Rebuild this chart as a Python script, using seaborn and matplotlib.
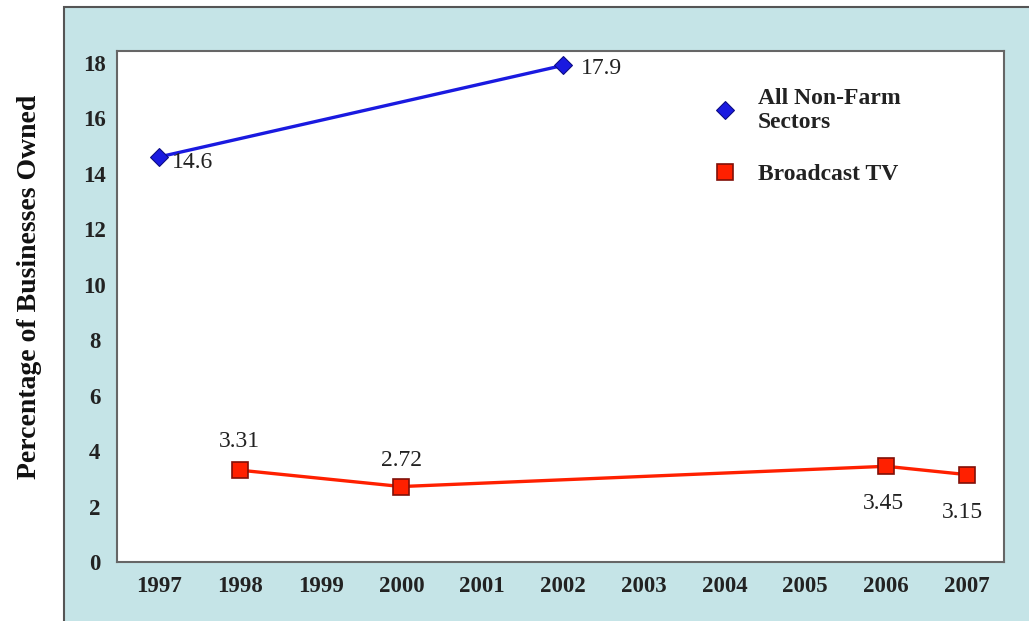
import matplotlib.pyplot as plt
import seaborn as sns
import pandas as pd
from matplotlib.patches import Rectangle

sns.set_theme(style='white')
plt.rcParams['font.family'] = ['Liberation Serif', 'DejaVu Serif']

# data
years_all = [1997, 2002]
pct_all = [14.6, 17.9]
years_tv = [1998, 2000, 2006, 2007]
pct_tv = [3.31, 2.72, 3.45, 3.15]
xticks = list(range(1997, 2008))
yticks = list(range(0, 20, 2))

df_all = pd.DataFrame({'year': years_all, 'pct': pct_all})
df_tv = pd.DataFrame({'year': years_tv, 'pct': pct_tv})

fig = plt.figure(figsize=(10.29, 6.21), dpi=100)
fig.patch.set_facecolor('white')

# light blue panel behind the plot
bg = fig.add_axes([0, 0, 1, 1], zorder=0)
bg.set_axis_off()
bg.set_xlim(0, 1)
bg.set_ylim(0, 1)
bg.add_patch(Rectangle((64 / 1029, -0.01), 1, 1 - 7 / 621 + 0.01,
                       facecolor='#c5e4e7', edgecolor='#555555', linewidth=1.5))

ax = fig.add_axes([117 / 1029, 59 / 621, (1004 - 117) / 1029, (562 - 51) / 621], zorder=1)
ax.set_facecolor('white')

sns.lineplot(data=df_all, x='year', y='pct', ax=ax, color='#1a1ae0', linewidth=2.4,
             marker='D', markersize=9, markerfacecolor='#1a1ae0', markeredgecolor='#0a0a80',
             label='All Non-Farm\nSectors')
sns.lineplot(data=df_tv, x='year', y='pct', ax=ax, color='#ff2000', linewidth=2.4,
             marker='s', markersize=12, markerfacecolor='#ff2000', markeredgecolor='#801008',
             markeredgewidth=1.2, label='Broadcast TV')

# value labels
lab = dict(textcoords='offset points', fontsize=17, color='#222222', va='center')
ax.annotate('14.6', (1997, 14.6), xytext=(9, -4), ha='left', **lab)
ax.annotate('17.9', (2002, 17.9), xytext=(13, -2), ha='left', **lab)
offsets = {1998: (0, 21), 2000: (0, 19), 2006: (-2, -27), 2007: (-3, -27)}
for yr, v in zip(years_tv, pct_tv):
    ax.annotate(f'{v:.2f}', (yr, v), xytext=offsets[yr], ha='center', **lab)

ax.set_xlim(1996.48, 2007.46)
ax.set_ylim(0, 18.42)
ax.set_xticks(xticks)
ax.set_yticks(yticks)
ax.set_xticklabels([str(x) for x in xticks], fontsize=16.5, fontweight='bold', color='#222222')
ax.set_yticklabels([str(y) for y in yticks], fontsize=16.5, fontweight='bold', color='#222222',
                   ha='center')
ax.tick_params(axis='x', pad=10, length=0)
ax.tick_params(axis='y', pad=16, length=0)
ax.set_xlabel('')
ax.set_ylabel('')
for s in ax.spines.values():
    s.set_color('#666666')
    s.set_linewidth(1.5)

fig.text(30 / 1029, 1 - 287 / 621, 'Percentage of Businesses Owned', rotation=90,
         ha='center', va='center', fontsize=20, fontweight='bold', color='#111111')

leg = ax.legend(loc='upper left', bbox_to_anchor=(0.648, 0.969), frameon=False, fontsize=17,
                handlelength=1.0, labelspacing=1.28, handletextpad=0.9)
for line in leg.get_lines():
    line.set_linestyle('')
for t in leg.get_texts():
    t.set_fontweight('bold')
    t.set_color('#222222')

fig.savefig('out.png', dpi=100, facecolor=fig.get_facecolor())
